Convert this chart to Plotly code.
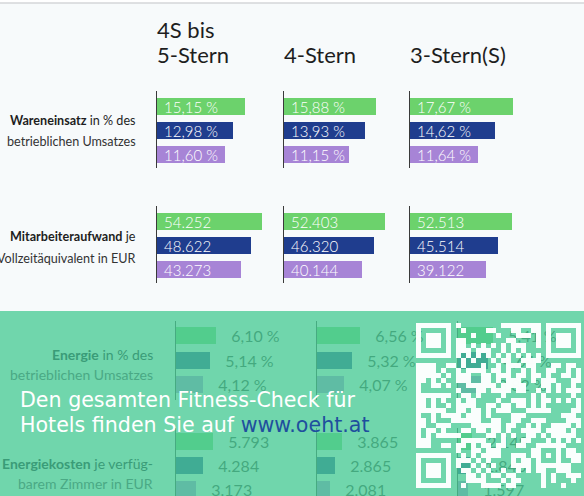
import plotly.graph_objects as go

W, H = 584, 496

# ---------------- data ----------------
column_titles = ["4S bis<br>5-Stern", "4-Stern", "3-Stern(S)"]
bar_colors = ["#6cd26c", "#1f3d8e", "#a784d6"]

# per column: [top group, middle group, bottom group]
wareneinsatz_col1 = [15.15, 12.98, 11.60]
wareneinsatz_col2 = [15.88, 13.93, 11.15]
wareneinsatz_col3 = [17.67, 14.62, 11.64]

mitarbeiter_col1 = [54252, 48622, 43273]
mitarbeiter_col2 = [52403, 46320, 40144]
mitarbeiter_col3 = [52513, 45514, 39122]

energie_col1 = [6.10, 5.14, 4.12]
energie_col2 = [6.56, 5.32, 4.07]
energie_col3 = [5.41, 4.64, 3.82]

energiekosten_col1 = [5793, 4284, 3173]
energiekosten_col2 = [3865, 2865, 2081]
energiekosten_col3 = [2149, 1846, 1597]

row_labels = [
    ("<b>Wareneinsatz</b> in % des", "betrieblichen Umsatzes"),
    ("<b>Mitarbeiteraufwand</b> je", "Vollzeitäquivalent in EUR"),
    ("<b>Energie</b> in % des", "betrieblichen Umsatzes"),
    ("<b>Energiekosten</b> je verfüg-", "barem Zimmer in EUR"),
]
promo_line1 = "Den gesamten Fitness-Check für"
promo_line2 = "Hotels finden Sie auf "
promo_url = "www.oeht.at"


def fmt_pct(v):
    return f"{v:.2f}".replace(".", ",") + " %"


def fmt_eur(v):
    return f"{v:,}".replace(",", ".")


fig = go.Figure()
axis_count = [0]
NB = "\u00a0"


def add_block(values, fmt, x0, width, scale, ytop, ybot, c0, pitch, inside):
    axis_count[0] += 1
    k = axis_count[0]
    sfx = "" if k == 1 else str(k)
    width = min(width, W - x0)
    ybot = min(ybot, H)
    if inside:
        texts = [NB + fmt(v) for v in values]
        tf = dict(family="Lato", size=15, color="white", weight=300)
        tpos = "inside"
    else:
        texts = [NB + NB + NB + fmt(v) for v in values]
        tf = dict(family="Lato", size=16, color="#2e2e2e", weight=400)
        tpos = "outside"
    fig.add_trace(go.Bar(
        x=values, y=[0, 1, 2], orientation="h",
        xaxis="x" + sfx, yaxis="y" + sfx,
        marker=dict(color=bar_colors, line=dict(width=0)),
        width=17 / pitch,
        text=texts, textposition=tpos, insidetextanchor="start",
        textangle=0, constraintext="none", cliponaxis=False,
        textfont=tf, hoverinfo="skip", showlegend=False,
    ))
    fig.layout["xaxis" + sfx] = dict(
        domain=[x0 / W, (x0 + width) / W], range=[0, width / scale],
        visible=False, anchor="y" + sfx, fixedrange=True)
    fig.layout["yaxis" + sfx] = dict(
        domain=[1 - ybot / H, 1 - ytop / H],
        range=[(ybot - c0) / pitch, (ytop - c0) / pitch],
        anchor="x" + sfx, showline=True, linecolor="#3a3a3a", linewidth=1,
        showticklabels=False, ticks="", showgrid=False, zeroline=False,
        fixedrange=True)


upper_x = [157, 284, 410]
lower_x = [176, 317, 458]

for x0, vals in zip(upper_x, [wareneinsatz_col1, wareneinsatz_col2, wareneinsatz_col3]):
    add_block(vals, fmt_pct, x0, 120, 5.82, 91, 168, 106.5, 24, True)
for x0, vals in zip(upper_x, [mitarbeiter_col1, mitarbeiter_col2, mitarbeiter_col3]):
    add_block(vals, fmt_eur, x0, 120, 0.001935, 206, 283, 221.5, 24, True)
for x0, vals in zip(lower_x, [energie_col1, energie_col2, energie_col3]):
    add_block(vals, fmt_pct, x0, 120, 6.55, 321, 400, 335.5, 24.5, False)
for x0, vals in zip(lower_x, [energiekosten_col1, energiekosten_col2, energiekosten_col3]):
    add_block(vals, fmt_eur, x0, 120, 0.0064, 428, 496, 441.5, 24, False)


def px(x):
    return x / W


def py(y):
    return 1 - y / H


shapes = []
# white strip + top rule
shapes.append(dict(type="rect", xref="paper", yref="paper", x0=0, x1=1, y0=py(3), y1=1,
                   fillcolor="white", line=dict(width=0), layer="below"))
shapes.append(dict(type="line", xref="paper", yref="paper", x0=0, x1=1, y0=py(3), y1=py(3),
                   line=dict(color="#d4d6d8", width=1.5)))
# mint overlay
shapes.append(dict(type="rect", xref="paper", yref="paper", x0=0, x1=1, y0=0, y1=py(311),
                   fillcolor="rgba(74,204,150,0.78)", line=dict(width=0), layer="above"))

# QR-like code (decorative)
N = 33
QX, QY, MS = 416, 323, 5


def qr_on(r, c):
    for fr, fc in [(0, 0), (0, N - 7), (N - 7, 0)]:
        if fr - 1 <= r <= fr + 7 and fc - 1 <= c <= fc + 7:
            rr, cc = r - fr, c - fc
            if 0 <= rr <= 6 and 0 <= cc <= 6:
                return max(abs(rr - 3), abs(cc - 3)) != 2
            return False
    if 24 <= r <= 28 and 24 <= c <= 28:
        return max(abs(r - 26), abs(c - 26)) != 1
    if r == 6:
        return c % 2 == 0
    if c == 6:
        return r % 2 == 0
    h = ((r * 73856093) ^ (c * 19349663) ^ (r * c * 83492791)) % 97
    return h < 50


path = []
for r in range(N):
    c = 0
    while c < N:
        if qr_on(r, c):
            s = c
            while c < N and qr_on(r, c):
                c += 1
            xa, xb = QX + s * MS, QX + c * MS
            ya, yb = QY + r * MS, QY + (r + 1) * MS
            path.append(f"M{px(xa):.5f},{py(ya):.5f}H{px(xb):.5f}V{py(yb):.5f}H{px(xa):.5f}Z")
        else:
            c += 1
shapes.append(dict(type="path", xref="paper", yref="paper", path="".join(path),
                   fillcolor="rgba(255,255,255,0.97)", line=dict(width=0), layer="above"))

annotations = []
# column headers
for x0, title in zip(upper_x, column_titles):
    lines = title.split("<br>")
    ys = [29, 55] if len(lines) == 2 else [55]
    for t, yy in zip(lines, ys):
        annotations.append(dict(text=t, x=px(x0 - 2), y=py(yy), xref="paper", yref="paper",
                                xanchor="left", yanchor="middle", showarrow=False,
                                font=dict(family="Lato", size=22, color="#1e1e1e")))

# row labels
label_specs = [
    (row_labels[0], 138, 121, 141, 12.6, "#1e1e1e", "#333333"),
    (row_labels[1], 138, 237, 258, 12.6, "#1e1e1e", "#333333"),
    (row_labels[2], 155, 354, 374, 14, "#3a9c78", "#4aa985"),
    (row_labels[3], 155, 463, 483, 14, "#3a9c78", "#4aa985"),
]
for (l1, l2), xr, y1, y2, fs, c1, c2 in label_specs:
    annotations.append(dict(text=l1, x=px(xr), y=py(y1), xref="paper", yref="paper",
                            xanchor="right", yanchor="middle", showarrow=False,
                            font=dict(family="Lato", size=fs, color=c1)))
    annotations.append(dict(text=l2, x=px(xr), y=py(y2), xref="paper", yref="paper",
                            xanchor="right", yanchor="middle", showarrow=False,
                            font=dict(family="Lato", size=fs, color=c2)))

# promo text
annotations.append(dict(text=promo_line1, x=px(18), y=py(400), xref="paper", yref="paper",
                        xanchor="left", yanchor="middle", showarrow=False,
                        font=dict(family="DejaVu Sans", size=20.6, color="white")))
annotations.append(dict(text=promo_line2 + f'<span style="color:#1f4f9e">{promo_url}</span>',
                        x=px(18), y=py(425), xref="paper", yref="paper",
                        xanchor="left", yanchor="middle", showarrow=False,
                        font=dict(family="DejaVu Sans", size=20.6, color="white")))

fig.update_layout(
    width=W, height=H, autosize=False,
    margin=dict(l=0, r=0, t=0, b=0, pad=0),
    paper_bgcolor="#f7fafb", plot_bgcolor="rgba(0,0,0,0)",
    shapes=shapes, annotations=annotations,
    bargap=0, showlegend=False,
)

fig.write_html("out.html",
               config={"displayModeBar": False},
               post_script="document.body.style.margin='0';document.body.style.padding='0';")
